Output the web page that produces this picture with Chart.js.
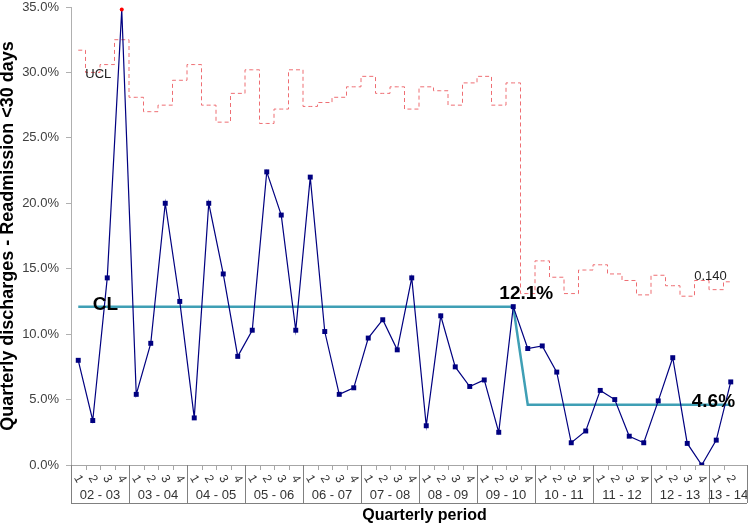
<!DOCTYPE html>
<html>
<head>
<meta charset="utf-8">
<script src="https://cdn.jsdelivr.net/npm/chart.js@4/dist/chart.umd.min.js"></script>
<style>
  body { margin: 0; background: #fff; }
  canvas { display: block; }
</style>
</head>
<body>
<canvas id="chart" width="750" height="526"></canvas>
<script>
// financial years and how many quarters of each are shown
const years = ['02 - 03', '03 - 04', '04 - 05', '05 - 06', '06 - 07', '07 - 08',
  '08 - 09', '09 - 10', '10 - 11', '11 - 12', '12 - 13', '13 - 14'];
const quartersPerYear = [4, 4, 4, 4, 4, 4, 4, 4, 4, 4, 4, 2];

// readmission rate (%) per quarter
const rate = [8.0, 3.4, 14.3, 34.8, 5.4, 9.3, 20.0, 12.5, 3.6, 20.0, 14.6, 8.3,
  10.3, 22.4, 19.1, 10.3, 22.0, 10.2, 5.4, 5.9, 9.7, 11.1, 8.8, 14.3,
  3.0, 11.4, 7.5, 6.0, 6.5, 2.5, 12.1, 8.9, 9.1, 7.1, 1.7, 2.6,
  5.7, 5.0, 2.2, 1.7, 4.9, 8.2, 1.65, 0.0, 1.9, 6.35];

// upper control limit (%) per quarter
const ucl = [31.7, 30.0, 30.6, 32.5, 28.1, 27.0, 27.5, 29.4, 30.6, 27.5, 26.2, 28.4,
  30.2, 26.1, 27.2, 30.2, 27.4, 27.7, 28.1, 28.9, 29.7, 28.4, 28.9, 27.2,
  28.9, 28.6, 27.5, 29.2, 29.7, 27.5, 29.2, 13.1, 15.6, 14.35, 13.1, 14.9,
  15.3, 14.6, 14.1, 13.0, 14.5, 13.7, 12.9, 14.1, 13.4, 14.0];

// centre line (%) per quarter
const cl = [12.1, 12.1, 12.1, 12.1, 12.1, 12.1, 12.1, 12.1, 12.1, 12.1, 12.1, 12.1,
  12.1, 12.1, 12.1, 12.1, 12.1, 12.1, 12.1, 12.1, 12.1, 12.1, 12.1, 12.1,
  12.1, 12.1, 12.1, 12.1, 12.1, 12.1, 12.1, 4.6, 4.6, 4.6, 4.6, 4.6,
  4.6, 4.6, 4.6, 4.6, 4.6, 4.6, 4.6, 4.6, 4.6, 4.6];

const yTicks = [0, 5, 10, 15, 20, 25, 30, 35];

const labels = [];
const quarterLabels = [];
years.forEach((y, i) => {
  for (let q = 1; q <= quartersPerYear[i]; q++) {
    labels.push(y + ' Q' + q);
    quarterLabels.push(String(q));
  }
});

const FONT = '"Liberation Sans", Arial, sans-serif';

// draws the two-row category table under the plot and the text notes
const chartNotes = {
  id: 'chartNotes',
  afterDraw(chart) {
    const ctx = chart.ctx;
    const xs = chart.scales.x;
    const ys = chart.scales.y;
    const area = chart.chartArea;
    const step = xs.getPixelForValue(1) - xs.getPixelForValue(0);
    const top = area.bottom;
    const bottom = top + 38;
    const right = area.right + 9;

    ctx.save();
    // axis line
    ctx.strokeStyle = '#a6a6a6';
    ctx.lineWidth = 1;
    ctx.beginPath();
    ctx.moveTo(area.left, top + 0.5);
    ctx.lineTo(right, top + 0.5);
    ctx.stroke();

    // small ticks between quarters
    ctx.beginPath();
    for (let i = 1; i < labels.length; i++) {
      const x = Math.round(xs.getPixelForValue(i) - step / 2) + 0.5;
      ctx.moveTo(x, top);
      ctx.lineTo(x, top + 5);
    }
    ctx.stroke();

    // year boxes
    ctx.strokeStyle = '#808080';
    ctx.beginPath();
    let idx = 0;
    ctx.moveTo(area.left + 0.5, top);
    ctx.lineTo(area.left + 0.5, bottom);
    ctx.font = '13px ' + FONT;
    ctx.fillStyle = '#333';
    ctx.textAlign = 'center';
    ctx.textBaseline = 'middle';
    years.forEach((y, i) => {
      const start = idx;
      idx += quartersPerYear[i];
      const x0 = xs.getPixelForValue(start) - step / 2;
      let x1 = xs.getPixelForValue(idx - 1) + step / 2;
      if (i === years.length - 1) x1 = right;
      const xl = Math.round(x1) + 0.5;
      ctx.moveTo(xl, top);
      ctx.lineTo(xl, bottom);
      ctx.fillText(y, (x0 + x1) / 2, top + 30);
    });
    ctx.moveTo(area.left, bottom + 0.5);
    ctx.lineTo(right, bottom + 0.5);
    ctx.stroke();

    // rotated quarter numbers
    ctx.font = '12px ' + FONT;
    quarterLabels.forEach((q, i) => {
      ctx.save();
      ctx.translate(xs.getPixelForValue(i), top + 14);
      ctx.rotate(Math.PI / 180 * 60);
      ctx.fillText(q, 0, 0);
      ctx.restore();
    });

    // x axis title
    ctx.font = 'bold 16px ' + FONT;
    ctx.fillStyle = '#000';
    ctx.fillText('Quarterly period', (area.left + area.right) / 2 + 20, 516);

    // notes on the lines
    const last = labels.length - 1;
    ctx.textBaseline = 'alphabetic';
    ctx.textAlign = 'left';
    ctx.font = '13px ' + FONT;
    ctx.fillStyle = '#222';
    ctx.fillText('UCL', xs.getPixelForValue(0) + 7, ys.getPixelForValue(29.6));
    ctx.fillText((ucl[last] / 100).toFixed(3), xs.getPixelForValue(last - 1) - 22,
      ys.getPixelForValue(ucl[last]) - 2);

    ctx.fillStyle = '#000';
    ctx.font = 'bold 19px ' + FONT;
    ctx.fillText('CL', xs.getPixelForValue(1), ys.getPixelForValue(cl[0]) + 3);
    ctx.textAlign = 'center';
    ctx.fillText(cl[30].toFixed(1) + '%', xs.getPixelForValue(30) + 13,
      ys.getPixelForValue(cl[30]) - 8);
    ctx.textAlign = 'left';
    ctx.fillText(cl[last].toFixed(1) + '%', xs.getPixelForValue(last - 2) - 10,
      ys.getPixelForValue(cl[last]) + 2);
    ctx.restore();
  }
};

new Chart(document.getElementById('chart'), {
  type: 'line',
  data: {
    labels: labels,
    datasets: [
      {
        label: 'Readmission rate',
        data: rate,
        borderColor: '#000080',
        borderWidth: 1.2,
        pointStyle: (c) => rate[c.dataIndex] > ucl[c.dataIndex] ? 'circle' : 'rect',
        pointRadius: (c) => rate[c.dataIndex] > ucl[c.dataIndex] ? 2 : 3.5,
        pointBackgroundColor: (c) => rate[c.dataIndex] > ucl[c.dataIndex] ? '#ff0000' : '#000080',
        pointBorderWidth: 0,
        order: 0
      },
      {
        label: 'CL',
        data: cl,
        borderColor: '#3f9fb5',
        borderWidth: 2.5,
        pointRadius: 0,
        order: 1
      },
      {
        label: 'UCL',
        data: ucl,
        borderColor: '#ee6e73',
        borderWidth: 1,
        borderDash: [4, 3],
        stepped: 'middle',
        pointRadius: 0,
        order: 2
      }
    ]
  },
  options: {
    responsive: false,
    animation: false,
    devicePixelRatio: 1,
    layout: { padding: { top: 0, right: 12, left: 0, bottom: 0 } },
    plugins: {
      legend: { display: false },
      tooltip: { enabled: false }
    },
    scales: {
      x: {
        type: 'category',
        offset: true,
        grid: { display: false },
        border: { display: false },
        ticks: { display: false },
        afterFit: (s) => { s.height = 61; }
      },
      y: {
        min: 0,
        max: 35,
        afterBuildTicks: (s) => { s.ticks = yTicks.map((v) => ({ value: v })); },
        ticks: {
          padding: 7,
          color: '#404040',
          font: { family: FONT, size: 13 },
          callback: (v) => v.toFixed(1) + '%'
        },
        grid: { drawOnChartArea: false, tickLength: 5, color: '#b0b0b0' },
        border: { color: '#b0b0b0' },
        title: {
          display: true,
          text: 'Quarterly discharges - Readmission <30 days',
          color: '#000',
          padding: { top: -3, bottom: 0 },
          font: { family: FONT, size: 18, weight: 'bold' }
        },
        afterFit: (s) => {
          s.width = 71;
          s.paddingTop = 7;
          s.paddingBottom = 0;
        }
      }
    }
  },
  plugins: [chartNotes]
});
</script>
</body>
</html>
